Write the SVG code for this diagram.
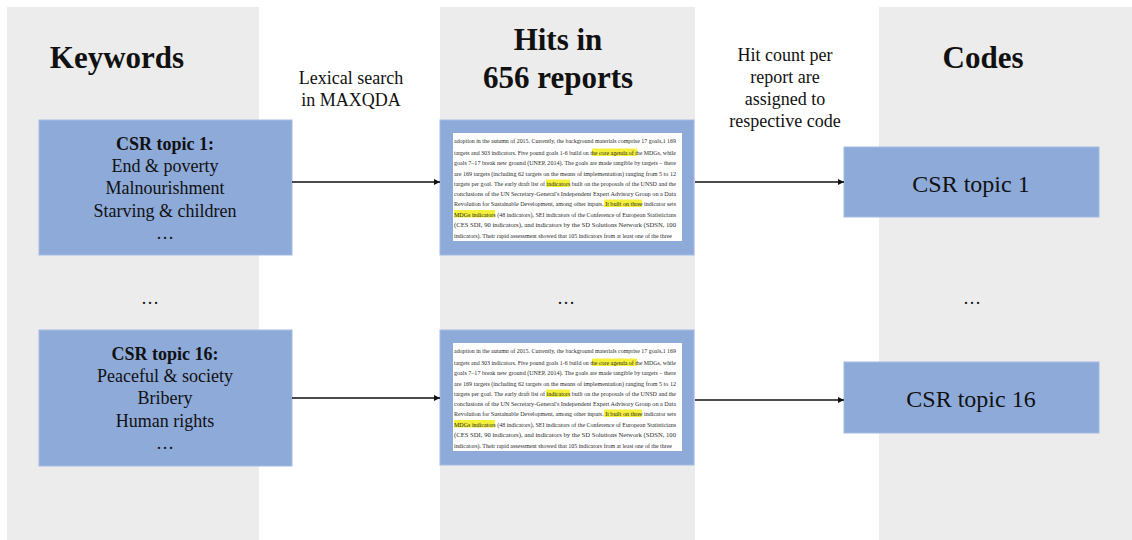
<svg xmlns="http://www.w3.org/2000/svg" xmlns:xlink="http://www.w3.org/1999/xlink" width="1132" height="540" viewBox="0 0 1132 540">
<style>
.col{fill:#ececec}
.box{fill:#8eaad9;stroke:#a3bbe3;stroke-width:1}
.paper{fill:#ffffff}
.hl{fill:#f5f03a}
.t{font-family:"Liberation Serif","Times New Roman",serif;fill:#111;text-anchor:middle}
.title{font-size:31px;font-weight:bold}
.lbl{font-size:18px}
.b{font-weight:bold}
.code{font-size:24px}
.doc{font-family:"Liberation Serif","Times New Roman",serif;font-size:7px;fill:#2a2a2a}
.conn{stroke:#111;stroke-width:1.5;fill:none;marker-end:url(#arr)}
</style>
<defs>
<marker id="arr" viewBox="0 0 10 10" refX="10" refY="5" markerWidth="6" markerHeight="6" orient="auto" markerUnits="userSpaceOnUse">
<path d="M0,0 L10,5 L0,10 z" fill="#111"/>
</marker>
<g id="docpage">
<rect class="paper" x="453" y="133" width="229" height="108"/>
<rect class="hl" x="592" y="148.5" width="45" height="7.5"/>
<rect class="hl" x="546" y="179.5" width="24" height="7.5"/>
<rect class="hl" x="604" y="199.5" width="38" height="7.5"/>
<rect class="hl" x="454" y="210" width="41" height="7.5"/>
<text class="doc" x="454" y="143" textLength="222" lengthAdjust="spacingAndGlyphs">adoption in the autumn of 2015. Currently, the background materials comprise 17 goals,1 169</text>
<text class="doc" x="454" y="154.5" textLength="222" lengthAdjust="spacingAndGlyphs">targets and 303 indicators. Five pound goals 1-6 build on the core agenda of the MDGs, while</text>
<text class="doc" x="454" y="165" textLength="222" lengthAdjust="spacingAndGlyphs">goals 7–17 break new ground (UNEP, 2014). The goals are made tangible by targets – there</text>
<text class="doc" x="454" y="175.5" textLength="222" lengthAdjust="spacingAndGlyphs">are 169 targets (including 62 targets on the means of implementation) ranging from 5 to 12</text>
<text class="doc" x="454" y="186" textLength="222" lengthAdjust="spacingAndGlyphs">targets per goal. The early draft list of indicators built on the proposals of the UNSD and the</text>
<text class="doc" x="454" y="196" textLength="222" lengthAdjust="spacingAndGlyphs">conclusions of the UN Secretary-General's Independent Expert Advisory Group on a Data</text>
<text class="doc" x="454" y="206" textLength="222" lengthAdjust="spacingAndGlyphs">Revolution for Sustainable Development, among other inputs. It built on three indicator sets</text>
<text class="doc" x="454" y="216.5" textLength="222" lengthAdjust="spacingAndGlyphs">MDGs indicators (48 indicators), SEI indicators of the Conference of European Statisticians</text>
<text class="doc" x="454" y="227" textLength="222" lengthAdjust="spacingAndGlyphs">(CES SDI, 90 indicators), and indicators by the SD Solutions Network (SDSN, 100</text>
<text class="doc" x="454" y="237.5" textLength="218" lengthAdjust="spacingAndGlyphs">indicators). Their rapid assessment showed that 105 indicators from at least one of the three</text>
</g>
</defs>
<rect width="1132" height="540" fill="#ffffff"/>
<g id="columns">
<rect class="col" x="7" y="7" width="252" height="533"/>
<rect class="col" x="440" y="7" width="255" height="533"/>
<rect class="col" x="879" y="7" width="253" height="533"/>
</g>
<g id="headers">
<text class="t title" x="117" y="68">Keywords</text>
<text class="t title" x="558" y="50">Hits in</text>
<text class="t title" x="558" y="88">656 reports</text>
<text class="t title" x="983" y="68">Codes</text>
</g>
<g id="label-lexical">
<text class="t lbl" x="351" y="84">Lexical search</text>
<text class="t lbl" x="351" y="106">in MAXQDA</text>
</g>
<g id="label-hitcount">
<text class="t lbl" x="785" y="61">Hit count per</text>
<text class="t lbl" x="785" y="83">report are</text>
<text class="t lbl" x="785" y="105">assigned to</text>
<text class="t lbl" x="785" y="127">respective code</text>
</g>
<g id="kw1">
<rect class="box" x="39" y="120" width="253" height="135"/>
<text class="t lbl b" x="165" y="150">CSR topic 1:</text>
<text class="t lbl" x="165" y="172">End &amp; poverty</text>
<text class="t lbl" x="165" y="194">Malnourishment</text>
<text class="t lbl" x="165" y="217">Starving &amp; children</text>
<text class="t lbl" x="165" y="239">…</text>
</g>
<g id="kw-ellipsis"><text class="t lbl" x="150" y="304">…</text></g>
<g id="kw16">
<rect class="box" x="39" y="330" width="253" height="136"/>
<text class="t lbl b" x="165" y="360">CSR topic 16:</text>
<text class="t lbl" x="165" y="382">Peaceful &amp; society</text>
<text class="t lbl" x="165" y="404">Bribery</text>
<text class="t lbl" x="165" y="427">Human rights</text>
<text class="t lbl" x="165" y="449">…</text>
</g>
<g id="hits1">
<rect class="box" x="440" y="120" width="254" height="135"/>
<use xlink:href="#docpage" href="#docpage"/>
</g>
<g id="hits-ellipsis"><text class="t lbl" x="566" y="304">…</text></g>
<g id="hits16">
<rect class="box" x="440" y="330" width="254" height="135"/>
<use xlink:href="#docpage" href="#docpage" transform="translate(0,210)"/>
</g>
<g id="code1">
<rect class="box" x="844" y="147" width="255" height="70"/>
<text class="t code" x="971" y="192">CSR topic 1</text>
</g>
<g id="code-ellipsis"><text class="t lbl" x="972" y="304">…</text></g>
<g id="code16">
<rect class="box" x="844" y="362" width="255" height="71"/>
<text class="t code" x="971" y="407">CSR topic 16</text>
</g>
<g id="connectors">
<line class="conn" x1="292" y1="182" x2="440" y2="182"/>
<line class="conn" x1="292" y1="398" x2="440" y2="398"/>
<line class="conn" x1="695" y1="182" x2="844" y2="182"/>
<line class="conn" x1="695" y1="400" x2="844" y2="400"/>
</g>
</svg>
